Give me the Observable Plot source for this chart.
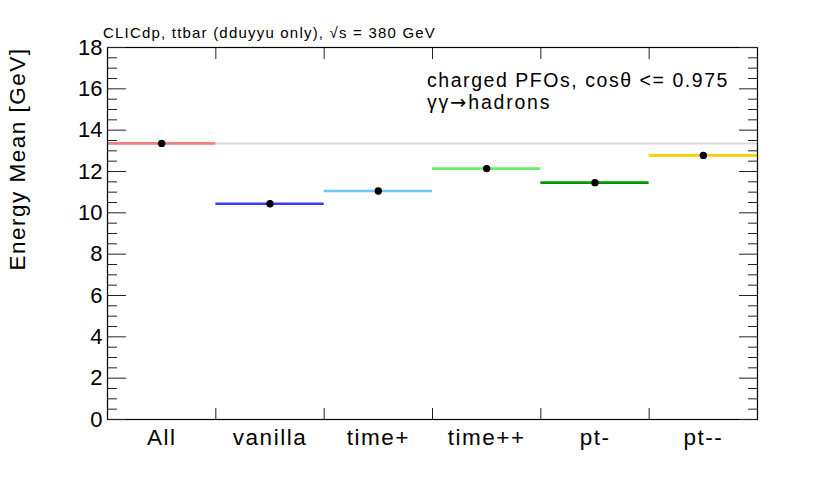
<!DOCTYPE html>
<html>
<head>
<meta charset="utf-8">
<script src="https://cdn.jsdelivr.net/npm/d3@7"></script>
<script src="https://cdn.jsdelivr.net/npm/@observablehq/plot@0.6"></script>
<style>
  html, body { margin: 0; padding: 0; background: #fff; }
  #chart svg { display: block; }
</style>
</head>
<body>
<div id="chart"></div>
<script>
// ---- data ----
const categories = ["All", "vanilla", "time+", "time++", "pt-", "pt--"];
const energyMean = [13.36, 10.44, 11.06, 12.14, 11.46, 12.78];
const seriesColors = ["#f08080", "#3b3bff", "#6cc8ff", "#66f066", "#009600", "#ffcc00"];
const yMajorTicks = [0, 2, 4, 6, 8, 10, 12, 14, 16, 18];
const yMinorTicks = [0.5,1,1.5,2.5,3,3.5,4.5,5,5.5,6.5,7,7.5,8.5,9,9.5,10.5,11,11.5,12.5,13,13.5,14.5,15,15.5,16.5,17,17.5];
const binEdges = [1, 2, 3, 4, 5];
const headerText = ["CLICdp, ttbar (dduyyu only), \u221As = 380 GeV"];
const legendLine1 = ["charged PFOs, cos\u03B8 <= 0.975"];
const legendLine2 = ["\u03B3\u03B3\u2192hadrons"];
const yTitle = ["Energy Mean [GeV]"];

const rows = categories.map((c, i) => ({cat: c, idx: i, value: energyMean[i], color: seriesColors[i]}));
const binCenters = categories.map((c, i) => i + 0.5);

const font = "'Liberation Sans', Arial, Helvetica, sans-serif";

const svg = Plot.plot({
  width: 830,
  height: 482,
  marginLeft: 107,
  marginRight: 73,
  marginTop: 47,
  marginBottom: 63,
  style: {fontFamily: font, background: "#fff", color: "#000", overflow: "visible"},
  x: {domain: [0, 6], axis: null},
  y: {domain: [0, 18], axis: null},
  color: {type: "identity"},
  marks: [
    Plot.ruleY([energyMean[0]], {stroke: "#d9d9d9", strokeWidth: 2}),
    Plot.ruleY(rows, {y: "value", x1: "idx", x2: d => d.idx + 1, stroke: "color", strokeWidth: 2.6}),
    Plot.dot(rows, {x: d => d.idx + 0.5, y: "value", r: 3.7, fill: "black", stroke: "none"}),
    Plot.frame({stroke: "black", strokeWidth: 1.2}),
    Plot.axisY({ticks: yMajorTicks, anchor: "left", tickSize: 19, dx: 19, fill: "none", stroke: "#222", label: null}),
    Plot.axisY({ticks: yMinorTicks, anchor: "left", tickSize: 10, dx: 10, fill: "none", stroke: "#222", label: null}),
    Plot.axisY({ticks: yMajorTicks, anchor: "right", tickSize: 19, dx: -19, fill: "none", stroke: "#222", label: null}),
    Plot.axisY({ticks: yMinorTicks, anchor: "right", tickSize: 10, dx: -10, fill: "none", stroke: "#222", label: null}),
    Plot.axisY({ticks: yMajorTicks, anchor: "left", tickSize: 0, tickPadding: 5, fontSize: 22, fill: "black", label: null}),
    Plot.axisX({ticks: binEdges, anchor: "bottom", tickSize: 11, dy: -11, fill: "none", stroke: "#222", label: null}),
    Plot.axisX({ticks: binEdges, anchor: "top", tickSize: 11, dy: 11, fill: "none", stroke: "#222", label: null}),
    Plot.axisX({ticks: binCenters, tickFormat: v => categories[Math.floor(v)], anchor: "bottom", tickSize: 0, tickPadding: 10, fontSize: 22.5, fill: "black", label: null}),
    Plot.text(yTitle, {frameAnchor: "top-left", text: d => d, rotate: -90, textAnchor: "end", dx: -98, dy: 0, fontSize: 22.5, fill: "black"}),
    Plot.text(headerText, {frameAnchor: "top-left", text: d => d, textAnchor: "start", dx: -4.5, dy: -20, fontSize: 15, fill: "black"}),
    Plot.text(legendLine1, {frameAnchor: "top-left", text: d => d, textAnchor: "start", dx: 319.5, dy: 26, fontSize: 19.5, fill: "black"}),
    Plot.text(legendLine2, {frameAnchor: "top-left", text: d => d, textAnchor: "start", dx: 319.5, dy: 47.5, fontSize: 19.5, fill: "black"})
  ]
});

d3.select(svg).selectAll("text").each(function() {
  const t = this.textContent;
  const s = d3.select(this);
  if (t === legendLine1[0]) { s.style("letter-spacing", "1.55px"); }
  else if (t === legendLine2[0]) {
    s.style("letter-spacing", "1.8px");
    const parts = t.split("\u2192");
    s.text(null);
    s.append("tspan").text(parts[0]);
    s.append("tspan").style("font-family", "'DejaVu Sans', sans-serif").text("\u2192");
    s.append("tspan").text(parts[1]);
  }
  else if (t === headerText[0]) { s.style("letter-spacing", "1.2px"); }
  else if (t === yTitle[0]) { s.style("letter-spacing", "1.5px"); }
  else if (categories.includes(t)) { s.style("letter-spacing", "1.5px"); }
});

document.getElementById("chart").appendChild(svg);
</script>
</body>
</html>
